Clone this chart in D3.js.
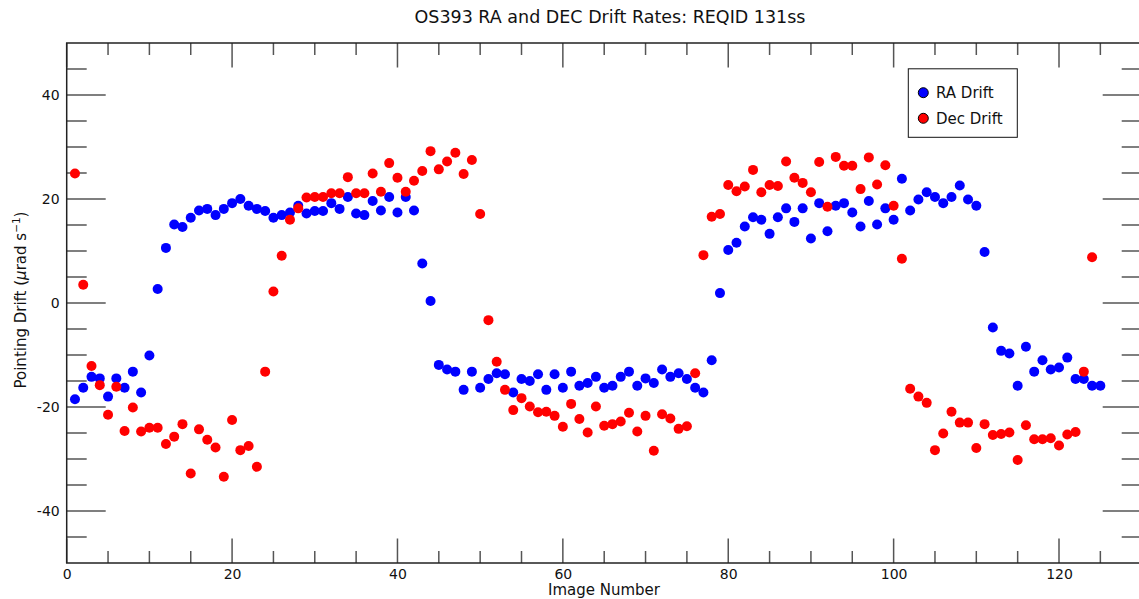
<!DOCTYPE html>
<html>
<head>
<meta charset="utf-8">
<script src="https://cdn.jsdelivr.net/npm/d3@7/dist/d3.min.js"></script>
<style>
  html, body { margin: 0; padding: 0; background: #fff; }
  svg { display: block; font-family: "DejaVu Sans", sans-serif; }
</style>
</head>
<body>
<svg id="chart" width="1139" height="599"></svg>
<script>
const raDrift = [-18.5,-16.3,-14.2,-14.5,-18,-14.5,-16.3,-13.2,-17.2,-10.1,
  2.7,10.6,15.1,14.6,16.4,17.8,18.1,16.9,18.1,19.2,
  20,18.7,18.1,17.7,16.4,16.9,17.4,18.7,17.2,17.7,
  17.7,19.2,18.1,20.4,17.2,16.9,19.6,17.8,20.4,17.4,
  20.4,17.8,7.6,0.4,-11.9,-12.8,-13.2,-16.7,-13.2,-16.3,
  -14.6,-13.5,-13.7,-17.2,-14.6,-15,-13.7,-16.7,-13.7,-16.3,
  -13.2,-15.9,-15.4,-14.2,-16.3,-15.9,-14.2,-13.2,-15.9,-14.5,
  -15.4,-12.8,-14.2,-13.5,-14.6,-16.3,-17.2,-11,1.9,10.2,
  11.6,14.7,16.5,16,13.3,16.5,18.2,15.6,18.2,12.4,
  19.2,13.8,18.7,19.2,17.4,14.7,19.6,15.1,18.2,16,
  23.9,17.8,19.9,21.3,20.4,19.2,20.4,22.6,19.9,18.7,
  9.8,-4.7,-9.2,-9.7,-15.9,-8.4,-13.2,-11,-12.8,-12.4,
  -10.5,-14.6,-14.6,-15.9,-15.9];
const decDrift = [24.9,3.5,-12.1,-15.8,-21.5,-16.1,-24.6,-20.1,-24.7,-24,
  -24,-27.1,-25.7,-23.3,-32.8,-24.3,-26.3,-27.8,-33.4,-22.5,
  -28.3,-27.5,-31.5,-13.2,2.2,9.1,16,18.2,20.3,20.4,
  20.4,21.1,21.1,24.2,21.1,21.1,24.9,21.4,26.9,24.1,
  21.4,23.5,25.4,29.2,25.7,27.2,28.9,24.8,27.5,17.1,
  -3.3,-11.3,-16.7,-20.6,-18.3,-19.9,-21,-20.9,-21.7,-23.8,
  -19.4,-22.3,-24.9,-19.9,-23.6,-23.3,-22.8,-21.1,-24.7,-21.7,
  -28.4,-21.4,-22.2,-24.2,-23.7,-13.5,9.2,16.6,17.1,22.7,
  21.5,22.4,25.6,21.3,22.7,22.5,27.2,24.1,23.1,21.3,
  27.1,18.5,28.1,26.4,26.4,21.9,28,22.8,26.5,18.7,
  8.5,-16.5,-18,-19.2,-28.3,-25.1,-20.9,-23,-23,-27.9,
  -23.3,-25.4,-25.2,-24.9,-30.2,-23.5,-26.2,-26.2,-26,-27.4,
  -25.3,-24.8,-13.2,8.8];
const xTickValues = [0, 20, 40, 60, 80, 100, 120];
const yTickValues = [-40, -20, 0, 20, 40];
const seriesNames = ["RA Drift", "Dec Drift"];
const seriesColors = ["#0000ff", "#ff0000"];

const svg = d3.select("#chart");
const L = 66.7, R = 1141.7, T = 43, B = 563;
const x = d3.scaleLinear().domain([0, 130]).range([L, R]);
const y = d3.scaleLinear().domain([-50, 50]).range([B, T]);

const tickColor = "#555";
const g = svg.append("g");

const xMinor = d3.range(0, 131, 5).filter(v => v % 20 !== 0);
const xMajor = d3.range(0, 131, 20);
const yMinor = d3.range(-50, 51, 5).filter(v => v % 20 !== 0 && Math.abs(v) !== 50);
const yMajor = d3.range(-40, 41, 20);

function tickLines(vals, len, isX) {
  vals.forEach(v => {
    if (isX) {
      g.append("line").attr("x1", x(v)).attr("x2", x(v)).attr("y1", B).attr("y2", B - len)
        .attr("stroke", tickColor).attr("stroke-width", 1.5);
      g.append("line").attr("x1", x(v)).attr("x2", x(v)).attr("y1", T).attr("y2", T + len)
        .attr("stroke", tickColor).attr("stroke-width", 1.5);
    } else {
      g.append("line").attr("x1", L).attr("x2", L + len).attr("y1", y(v)).attr("y2", y(v))
        .attr("stroke", tickColor).attr("stroke-width", 1.5);
      g.append("line").attr("x1", R).attr("x2", R - len).attr("y1", y(v)).attr("y2", y(v))
        .attr("stroke", tickColor).attr("stroke-width", 1.5);
    }
  });
}
tickLines(xMinor, 12, true);
tickLines(xMajor, 24.5, true);
tickLines(yMinor, 20, false);
tickLines(yMajor, 39, false);

g.append("rect").attr("x", L).attr("y", T).attr("width", R - L).attr("height", B - T)
  .attr("fill", "none").attr("stroke", "#222").attr("stroke-width", 1.5);

const xAxis = d3.axisBottom(x).tickValues(xTickValues).tickSize(0).tickPadding(4).tickFormat(d3.format("d"));
const xa = svg.append("g").attr("transform", `translate(0,${B})`).call(xAxis);
xa.select(".domain").remove();
xa.selectAll("text").attr("font-size", 14).attr("font-family", "DejaVu Sans").attr("fill", "#111").attr("dy", "0.85em");

const yAxis = d3.axisLeft(y).tickValues(yTickValues).tickSize(0).tickPadding(7).tickFormat(d => d < 0 ? "-" + Math.abs(d) : String(d));
const ya = svg.append("g").attr("transform", `translate(${L},0)`).call(yAxis);
ya.select(".domain").remove();
ya.selectAll("text").attr("font-size", 14).attr("font-family", "DejaVu Sans").attr("fill", "#111");

const pts = svg.append("g");
[raDrift, decDrift].forEach((arr, si) => {
  pts.selectAll(null).data(arr.map((v, i) => ({ n: i + 1, v })))
    .enter().append("circle")
    .attr("cx", d => x(d.n)).attr("cy", d => y(d.v)).attr("r", 5)
    .attr("fill", seriesColors[si]);
});

svg.append("text").attr("x", 610).attr("y", 23).attr("text-anchor", "middle")
  .attr("font-size", 17.5).attr("fill", "#111").text("OS393 RA and DEC Drift Rates: REQID 131ss");

svg.append("text").attr("x", 604).attr("y", 595).attr("text-anchor", "middle")
  .attr("font-size", 15).attr("fill", "#111").text("Image Number");

const yl = svg.append("text").attr("transform", "translate(26,300) rotate(-90)")
  .attr("text-anchor", "middle").attr("font-size", 15).attr("fill", "#111");
yl.append("tspan").text("Pointing Drift (");
yl.append("tspan").attr("font-style", "italic").text("μ");
yl.append("tspan").text("rad s");
yl.append("tspan").attr("font-size", 10.5).attr("dy", -6).text("−1");
yl.append("tspan").attr("dy", 6).text(")");

const lg = svg.append("g");
lg.append("rect").attr("x", 908.3).attr("y", 68.8).attr("width", 109).attr("height", 68.5)
  .attr("fill", "#fff").attr("stroke", "#111").attr("stroke-width", 1);
seriesNames.forEach((name, i) => {
  const cy = 92.7 + i * 25.6;
  lg.append("circle").attr("cx", 923.3).attr("cy", cy).attr("r", 5)
    .attr("fill", seriesColors[i]).attr("stroke", "#000").attr("stroke-width", 1);
  lg.append("text").attr("x", 936).attr("y", cy + 5.5).attr("font-size", 15).attr("fill", "#111").text(name);
});
</script>
</body>
</html>
